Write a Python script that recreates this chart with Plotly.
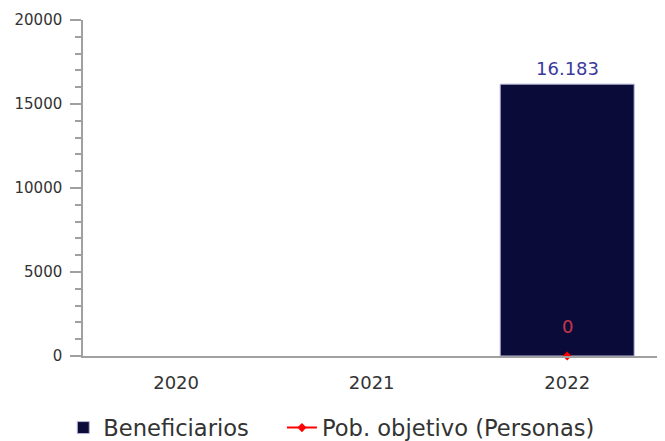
import plotly.graph_objects as go

years = ["2020", "2021", "2022"]
beneficiarios = [None, None, 16183]
pob_objetivo = [None, None, 0]

navy = "#0b0b3a"
red = "#ff0000"
axis_grey = "#a0a0a0"
font = "DejaVu Sans"

fig = go.Figure()
fig.add_trace(go.Bar(
    x=years, y=beneficiarios, name="Beneficiarios",
    marker=dict(color=navy, line=dict(color="#b8b8d8", width=1)),
    width=0.685,
    legend="legend",
))
fig.add_trace(go.Scatter(
    x=years, y=pob_objetivo, name="Pob. objetivo (Personas)",
    mode="lines+markers",
    line=dict(color=red, width=2),
    marker=dict(color=red, symbol="diamond", size=7),
    cliponaxis=False,
    legend="legend2",
))
for i, v in enumerate(beneficiarios):
    if v is not None:
        fig.add_annotation(x=i, y=v, text=f"{v:,}".replace(",", "."), showarrow=False,
                           yanchor="middle", yshift=16,
                           font=dict(color="#3a3a9c", size=18, family=font))
for i, v in enumerate(pob_objetivo):
    if v is not None:
        fig.add_annotation(x=i, y=v, text=str(v), showarrow=False,
                           yanchor="middle", yshift=30,
                           font=dict(color="#c8364a", size=18, family=font))

legend_font = dict(size=22.6, color="#333333", family=font)
fig.update_layout(
    width=657, height=433,
    margin=dict(l=75, r=2, t=12, b=85, autoexpand=False),
    paper_bgcolor="white", plot_bgcolor="white",
    font=dict(family=font, color="#333333"),
    showlegend=True,
    legend=dict(orientation="h", x=-0.034, xanchor="left", y=-0.15, yanchor="top",
                bgcolor="rgba(0,0,0,0)", font=legend_font),
    legend2=dict(orientation="h", x=0.343, xanchor="left", y=-0.15, yanchor="top",
                 bgcolor="rgba(0,0,0,0)", font=legend_font),
)
fig.update_xaxes(
    type="category", range=[-0.476, 2.49], automargin=False,
    showline=True, linecolor=axis_grey, linewidth=1.5,
    ticks="", showgrid=False, ticklabelstandoff=10,
    tickfont=dict(size=18, color="#333333"),
)
fig.update_yaxes(
    range=[0, 20000], dtick=5000, tickformat="d", automargin=False,
    showline=True, linecolor=axis_grey, linewidth=1.5,
    ticks="outside", ticklen=11, tickcolor=axis_grey, tickwidth=1.5,
    minor=dict(dtick=1000, ticks="outside", ticklen=6, tickcolor=axis_grey, tickwidth=1.5),
    showgrid=False, zeroline=False, ticklabelstandoff=5,
    tickfont=dict(size=15, color="#333333"),
)

fig.write_html("out.html")
